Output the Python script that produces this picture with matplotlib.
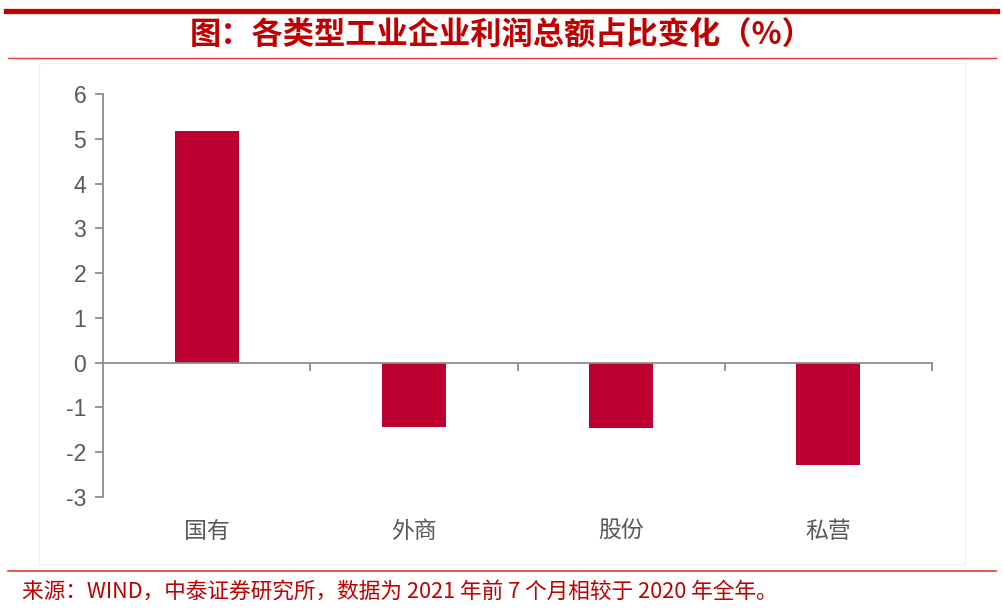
import matplotlib
matplotlib.use('Agg')
import matplotlib.pyplot as plt
from matplotlib.patches import Rectangle
from matplotlib.lines import Line2D

# data
categories = ['国有', '外商', '股份', '私营']
share_change = [5.18, -1.44, -1.47, -2.29]
y_ticks = [-3, -2, -1, 0, 1, 2, 3, 4, 5, 6]

title = '图：各类型工业企业利润总额占比变化（%）'
source = '来源：WIND，中泰证券研究所，数据为 2021 年前 7 个月相较于 2020 年全年。'

red = '#C00000'
bar_color = '#BE0030'
grey = '#595959'
axis_grey = '#8C8C8C'

plt.rcParams['font.family'] = ['Noto Sans CJK SC', 'DejaVu Sans']

W, H = 1004, 615
fig = plt.figure(figsize=(W / 100, H / 100), dpi=100)


def fx(px):
    return px / W


def fy(py):
    return 1 - py / H


# header / footer rules
fig.add_artist(Line2D([fx(6), fx(997)], [fy(10.5), fy(10.5)], color=red, lw=3.8))
fig.add_artist(Line2D([fx(8), fx(996)], [fy(58.3), fy(58.3)], color='#E03A3A', lw=1.0))
fig.add_artist(Line2D([fx(8), fx(996)], [fy(570.7), fy(570.7)], color='#E03A3A', lw=1.2))

# faint chart panel, kept behind the axes
panel = Rectangle((fx(39), fy(564)), fx(965) - fx(39), fy(63) - fy(564),
                  facecolor='white', edgecolor='#F0F0F0', lw=0.8, zorder=-1)
fig.add_artist(panel)

fig.text(0.5, fy(36), title, ha='center', va='center', color=red,
         fontsize=22.5, fontweight='bold')
fig.text(fx(22), fy(592), source, ha='left', va='center', color=red,
         fontsize=15.6)

ax = fig.add_axes([fx(103), fy(497), fx(932) - fx(103), fy(94) - fy(497)])
ax.set_facecolor('none')

x = list(range(len(categories)))
ax.bar(x, share_change, width=0.31, color=bar_color, zorder=3)

ax.set_xlim(-0.5, len(categories) - 0.5)
ax.set_ylim(-3, 6)
ax.set_yticks(y_ticks)
ax.set_yticklabels([str(v) for v in y_ticks], family=['Liberation Sans', 'DejaVu Sans'])

for s in ['top', 'right']:
    ax.spines[s].set_visible(False)
ax.spines['left'].set_color(axis_grey)
ax.spines['left'].set_linewidth(1.3)
ax.spines['bottom'].set_position(('data', 0))
ax.spines['bottom'].set_color(axis_grey)
ax.spines['bottom'].set_linewidth(1.3)
ax.spines['bottom'].set_zorder(4)

ax.tick_params(axis='y', direction='out', length=6, width=1.3, color=axis_grey,
               labelcolor=grey, labelsize=16.5, pad=6)

# category labels sit at the bottom, boundary ticks on the zero line
ax.set_xticks(x)
ax.set_xticklabels(categories)
ax.tick_params(axis='x', which='major', length=0, labelcolor=grey,
               labelsize=16.5, pad=113)
ax.set_xticks([i + 0.5 for i in x], minor=True)
ax.tick_params(axis='x', which='minor', direction='out', length=6, width=1.3,
               color=axis_grey)

fig.savefig('out.png', dpi=100)
